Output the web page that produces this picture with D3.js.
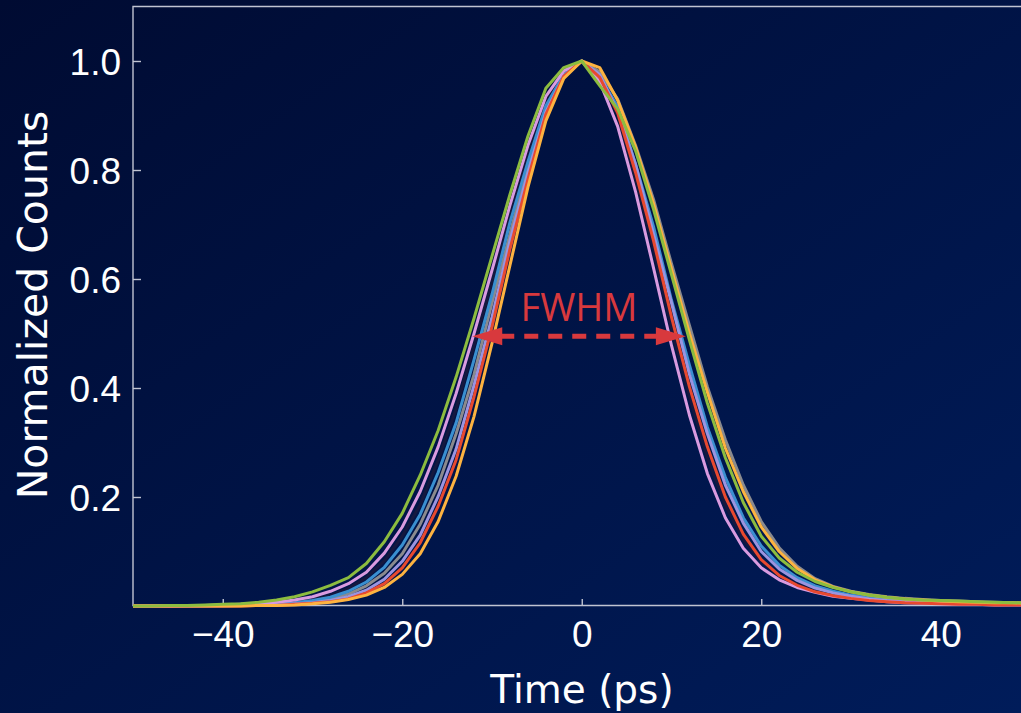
<!DOCTYPE html>
<html><head><meta charset="utf-8">
<script src="https://cdn.jsdelivr.net/npm/d3@7"></script>
<style>html,body{margin:0;padding:0;background:#000c35;overflow:hidden}</style>
</head><body><svg id="chart" width="1021" height="713"></svg>
<script>
// ---- data ----
const times = [-50,-48,-46,-44,-42,-40,-38,-36,-34,-32,-30,-28,-26,-24,-22,-20,-18,-16,-14,-12,-10,-8,-6,-4,-2,0,
  2,4,6,8,10,12,14,16,18,20,22,24,26,28,30,32,34,36,38,40,42,44,46,48,50];

const darkSeries = [0,0,0,0,0.001,0.001,0.002,0.003,0.005,0.008,0.012,0.020,0.032,0.052,0.083,0.128,0.186,0.268,0.362,0.478,0.595,0.721,0.829,0.924,0.978,1.0,
  0.970,0.902,0.782,0.655,0.510,0.385,0.272,0.185,0.122,0.082,0.056,0.040,0.029,0.021,0.016,0.012,0.009,0.007,0.006,0.005,0.004,0.003,0.003,0.002,0.002];
const graySeries = [0,0,0,0,0,0.001,0.001,0.002,0.003,0.005,0.008,0.013,0.022,0.037,0.060,0.096,0.150,0.222,0.316,0.425,0.556,0.683,0.810,0.908,0.974,1.0,
  0.980,0.930,0.845,0.746,0.628,0.515,0.402,0.305,0.222,0.155,0.107,0.073,0.050,0.036,0.027,0.021,0.017,0.014,0.012,0.010,0.009,0.008,0.007,0.006,0.005];
const blueSeries = [0,0,0,0,0.001,0.001,0.002,0.002,0.004,0.006,0.010,0.016,0.027,0.044,0.071,0.112,0.168,0.245,0.336,0.452,0.572,0.704,0.815,0.918,0.975,1.0,
  0.972,0.916,0.810,0.696,0.561,0.442,0.328,0.236,0.162,0.110,0.075,0.052,0.037,0.027,0.020,0.015,0.012,0.009,0.008,0.006,0.005,0.005,0.004,0.004,0.003];
const lavenderSeries = [0,0,0,0,0,0,0.001,0.001,0.002,0.004,0.006,0.010,0.017,0.029,0.049,0.082,0.130,0.201,0.288,0.405,0.530,0.670,0.795,0.906,0.972,1.0,
  0.975,0.908,0.810,0.682,0.556,0.425,0.316,0.222,0.152,0.100,0.068,0.047,0.033,0.024,0.018,0.013,0.010,0.008,0.006,0.005,0.004,0.004,0.003,0.003,0.002];
const pinkSeries = [0,0,0,0.001,0.001,0.002,0.003,0.004,0.007,0.011,0.017,0.027,0.041,0.062,0.097,0.145,0.210,0.292,0.390,0.500,0.616,0.735,0.845,0.935,0.982,1.0,
  0.962,0.880,0.760,0.620,0.478,0.350,0.243,0.162,0.106,0.070,0.048,0.034,0.025,0.018,0.014,0.011,0.008,0.006,0.005,0.004,0.003,0.003,0.002,0.002,0.002];
const redSeries = [0,0,0,0,0,0,0,0.001,0.001,0.003,0.005,0.008,0.013,0.024,0.041,0.070,0.116,0.183,0.268,0.384,0.512,0.655,0.783,0.902,0.972,1.0,
  0.970,0.905,0.795,0.670,0.530,0.402,0.292,0.200,0.132,0.085,0.056,0.038,0.026,0.019,0.014,0.010,0.008,0.006,0.005,0.004,0.003,0.003,0.002,0.002,0.002];
const orangeSeries = [0,0,0,0,0,0,0,0.001,0.001,0.002,0.004,0.007,0.012,0.020,0.034,0.058,0.096,0.155,0.238,0.348,0.482,0.625,0.768,0.890,0.968,1.0,
  0.988,0.928,0.842,0.738,0.618,0.500,0.392,0.290,0.210,0.145,0.100,0.069,0.048,0.035,0.026,0.020,0.016,0.013,0.011,0.009,0.008,0.007,0.006,0.006,0.005];
const greenSeries = [0,0,0.001,0.001,0.002,0.003,0.004,0.007,0.011,0.017,0.026,0.038,0.052,0.078,0.118,0.170,0.240,0.322,0.420,0.528,0.642,0.755,0.862,0.950,0.988,1.0,
  0.955,0.912,0.835,0.728,0.608,0.488,0.372,0.272,0.190,0.128,0.088,0.062,0.045,0.034,0.026,0.020,0.016,0.013,0.011,0.010,0.009,0.008,0.007,0.006,0.006];

const seriesList = [darkSeries, graySeries, blueSeries, lavenderSeries, pinkSeries, redSeries, orangeSeries, greenSeries];
const seriesColors = ["#15183f", "#8a8a8e", "#3a8fd0", "#9a94e0", "#d99be0", "#e8492f", "#fdb340", "#8cbc3f"];

const xTicks = [-40, -20, 0, 20, 40];
const yTicks = [0.2, 0.4, 0.6, 0.8, 1.0];
const xDomain = [-50, 50];
const yDomain = [0, 1.1];
const fwhmLevel = 0.495;
const fwhmEnds = [-12.2, 11.6];
const fwhmLabel = "FWHM";
const xLabel = "Time (ps)";
const yLabel = "Normalized Counts";

// ---- drawing ----
(function () {
const svg = d3.select("#chart");
const defs = svg.append("defs");
const grad = defs.append("linearGradient").attr("id", "bg")
  .attr("x1", "0").attr("y1", "0").attr("x2", "1").attr("y2", "1");
grad.append("stop").attr("offset", "0%").attr("stop-color", "#000b32");
grad.append("stop").attr("offset", "100%").attr("stop-color", "#001c5a");
svg.append("rect").attr("width", 1021).attr("height", 713).attr("fill", "url(#bg)");

const pL = 133, pT = 6.5, pB = 606, pR = 1030.5;
const x = d3.scaleLinear().domain(xDomain).range([pL, pR]);
const y = d3.scaleLinear().domain(yDomain).range([pB, pT]);

const axisColor = "#c0c4d2";
const tickFont = "'Liberation Sans', Arial, sans-serif";

// spines
svg.append("path")
  .attr("d", `M${pR},${pT}H${pL}V${pB - 0.5}H${pR}`)
  .attr("fill", "none").attr("stroke", axisColor).attr("stroke-width", 1.4);

const gy = svg.append("g").attr("transform", `translate(${pL},0)`)
  .call(d3.axisLeft(y).tickValues(yTicks).tickSize(-8).tickPadding(12).tickFormat(d3.format(".1f")));
gy.select(".domain").remove();
gy.selectAll("line").attr("stroke", axisColor).attr("stroke-width", 1.4);
gy.selectAll("text").attr("fill", "#ffffff").attr("font-size", 37).attr("font-family", tickFont).attr("dy", "0.36em");

const gx = svg.append("g").attr("transform", `translate(0,${pB})`)
  .call(d3.axisBottom(x).tickValues(xTicks).tickSize(-7).tickPadding(15).tickFormat(d3.format("d")));
gx.select(".domain").remove();
gx.selectAll("line").attr("stroke", axisColor).attr("stroke-width", 1.4);
gx.selectAll("text").attr("fill", "#ffffff").attr("font-size", 37).attr("font-family", tickFont);

// curves
const line = d3.line().x((d, i) => x(times[i])).y(d => y(d));
svg.append("g").selectAll("path").data(seriesList).join("path")
  .attr("d", d => line(d))
  .attr("fill", "none")
  .attr("stroke", (d, i) => seriesColors[i])
  .attr("stroke-width", 3)
  .attr("stroke-linejoin", "round");

// labels
svg.append("text").attr("x", 582).attr("y", 703).attr("text-anchor", "middle")
  .attr("font-family", "'DejaVu Sans', sans-serif").attr("font-size", 39).attr("fill", "#ffffff")
  .text(xLabel);
svg.append("text").attr("transform", "translate(47,305) rotate(-90)").attr("text-anchor", "middle")
  .attr("font-family", "'DejaVu Sans', sans-serif").attr("font-size", 41).attr("fill", "#ffffff")
  .text(yLabel);

// FWHM annotation
const red = "#d8393d";
const ay = y(fwhmLevel), ax0 = x(fwhmEnds[0]), ax1 = x(fwhmEnds[1]);
svg.append("line").attr("x1", ax0 + 28).attr("x2", ax1 - 28).attr("y1", ay).attr("y2", ay)
  .attr("stroke", red).attr("stroke-width", 5).attr("stroke-dasharray", "14,10");
svg.append("path").attr("fill", red)
  .attr("d", `M${ax0},${ay}L${ax0 + 30},${ay - 9}L${ax0 + 30},${ay + 9}Z`);
svg.append("path").attr("fill", red)
  .attr("d", `M${ax1},${ay}L${ax1 - 30},${ay - 9}L${ax1 - 30},${ay + 9}Z`);
svg.append("text").attr("x", (ax0 + ax1) / 2).attr("y", 321).attr("text-anchor", "middle")
  .attr("font-family", "'Open Sans', sans-serif").attr("font-size", 38).attr("fill", red)
  .text(fwhmLabel);
})();
</script>
</body></html>
